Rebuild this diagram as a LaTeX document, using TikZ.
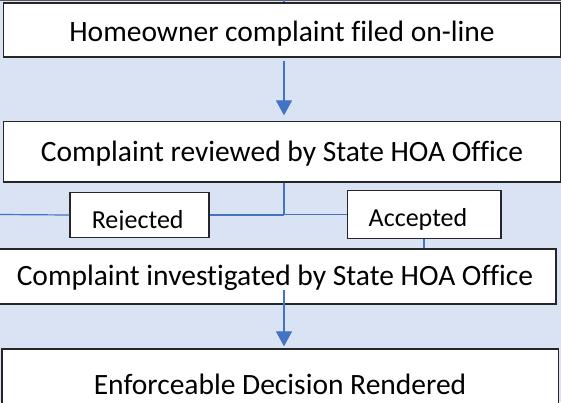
\documentclass[tikz,border=0pt]{standalone}
\usepackage{fontspec}
\setmainfont{Carlito}[Ligatures=CommonOff]
\usetikzlibrary{arrows.meta}
\definecolor{bg}{HTML}{DAE3F3}
\definecolor{conn}{HTML}{4472C4}
\definecolor{edge}{HTML}{262626}
\begin{document}
\begin{tikzpicture}[x=1pt,y=-1pt,
  box/.style={draw=edge, line width=1.3pt, fill=white, inner sep=0pt, rectangle},
  lbl/.style={font=\fontsize{29.5pt}{34pt}\selectfont, inner sep=0pt, anchor=base},
  slbl/.style={font=\fontsize{26pt}{30pt}\selectfont, inner sep=0pt, anchor=base},
  cl/.style={draw=conn, line width=1.2pt},
  arr/.style={cl, -{Triangle[width=16pt,length=15pt]}}]
\useasboundingbox (0,0) rectangle (561,402);
\clip (0,0) rectangle (561,402);
\fill[bg] (0,0) rectangle (561,402);
\draw[gray!70!black, line width=1pt] (0,0.5) -- (561,0.5);
\coordinate (ax) at (284,0);
\coordinate (lft) at (0,214.5);
% boxes
\node[box, minimum width=557pt, minimum height=54pt] (b1) at (282,30) {};
\node[lbl] (t1) at (282,41) {Homeowner complaint filed on-line};
\node[box, minimum width=557pt, minimum height=60.5pt] (b2) at (282,151.75) {};
\node[lbl] (t2) at (282,161) {Complaint reviewed by State HOA Office};
\node[box, minimum width=139pt, minimum height=45.5pt] (rej) at (139.5,215) {};
\begin{scope}
  \clip (rej.north west) rectangle (rej.east |- 0,229);
  \node[slbl] (trej) at (137.7,228.3) {Rejected};
\end{scope}
\node[box, minimum width=153.7pt, minimum height=47.8pt] (acc) at (424,214.6) {};
\begin{scope}
  \clip (acc.north west) rectangle (acc.east |- 0,229);
  \node[slbl] (tacc) at (418,226.7) {Accepted};
\end{scope}
\node[box, minimum width=561pt, minimum height=55pt] (b3) at (275.5,276.5) {};
\node[lbl] (t3) at (275,285) {Complaint investigated by State HOA Office};
\node[box, minimum width=556.7pt, minimum height=81pt] (b4) at (280.3,389.5) {};
\node[lbl] (t4) at (280,394) {Enforceable Decision Rendered};
% connectors
\draw[cl] (ax) -- (ax |- b1.north);
\draw[arr, shorten <=3pt, shorten >=5.5pt] (ax |- b1.south) -- (ax |- b2.north);
\draw[cl] (ax |- b2.south) |- (acc.west);
\draw[cl] (rej.east) -- (rej.east -| ax);
\draw[cl] (rej.west) -- (lft);
\draw[cl] (acc.south) -- (acc.south |- b3.north);
\coordinate (a2) at (284,290);
\draw[arr, shorten >=2pt] (a2) -- (a2 |- b4.north);
\end{tikzpicture}
\end{document}
